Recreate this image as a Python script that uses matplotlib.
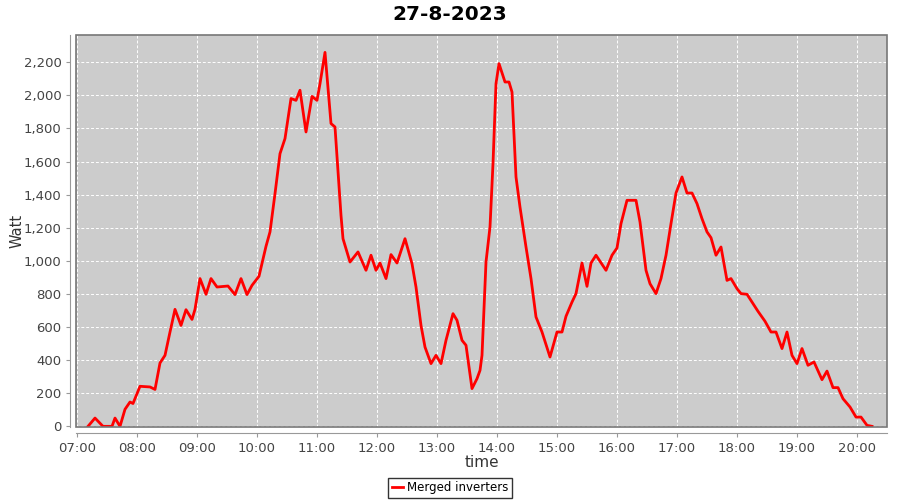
import matplotlib
matplotlib.use("Agg")
import matplotlib.pyplot as plt
import matplotlib.dates as mdates
from matplotlib.ticker import FuncFormatter
from matplotlib.patches import Rectangle
import pandas as pd

# readings of the day (time of day, watt)
times = ["07:11", "07:18", "07:26", "07:35", "07:38", "07:43", "07:48", "07:53", "07:56", "08:03",
         "08:13", "08:18", "08:23", "08:28", "08:33", "08:38", "08:44", "08:49", "08:55", "08:58",
         "09:03", "09:09", "09:14", "09:20", "09:31", "09:38", "09:44", "09:50", "09:55", "10:02",
         "10:09", "10:13", "10:18", "10:23", "10:28", "10:34", "10:39", "10:43", "10:49", "10:55",
         "11:00", "11:03", "11:08", "11:14", "11:18", "11:24", "11:26", "11:33", "11:41", "11:49",
         "11:54", "11:59", "12:03", "12:09", "12:14", "12:20", "12:28", "12:35", "12:39", "12:44",
         "12:48", "12:54", "12:59", "13:04", "13:09", "13:16", "13:20", "13:25", "13:29", "13:35",
         "13:40", "13:43", "13:45", "13:49", "13:53", "13:56", "13:59", "14:02", "14:08", "14:12",
         "14:15", "14:19", "14:23", "14:29", "14:34", "14:39", "14:45", "14:53", "15:00", "15:05",
         "15:09", "15:15", "15:19", "15:25", "15:30", "15:34", "15:39", "15:49", "15:55", "16:00",
         "16:04", "16:10", "16:19", "16:23", "16:29", "16:33", "16:39", "16:44", "16:49", "16:54",
         "16:59", "17:05", "17:10", "17:15", "17:20", "17:25", "17:30", "17:34", "17:39", "17:44",
         "17:50", "17:54", "18:00", "18:04", "18:10", "18:15", "18:21", "18:28", "18:34", "18:39",
         "18:45", "18:50", "18:55", "19:00", "19:05", "19:11", "19:17", "19:25", "19:30", "19:36",
         "19:41", "19:46", "19:53", "19:59", "20:04", "20:10", "20:15"]
watt = [0, 50, 0, 0, 50, 0, 103, 147, 138, 242,
        238, 223, 383, 429, 570, 707, 610, 705, 646, 707,
        893, 798, 893, 842, 848, 796, 893, 796, 852, 907,
        1088, 1175, 1406, 1648, 1739, 1981, 1970, 2031, 1779, 1994,
        1970, 2071, 2260, 1830, 1809, 1275, 1134, 993, 1054, 943,
        1034, 943, 987, 893, 1038, 987, 1134, 983, 842, 610,
        479, 379, 429, 379, 520, 681, 641, 520, 490, 228,
        288, 338, 429, 993, 1205, 1588, 2071, 2192, 2081, 2081,
        2020, 1507, 1325, 1084, 893, 661, 570, 419, 570, 570,
        665, 751, 802, 987, 846, 987, 1034, 943, 1034, 1078,
        1225, 1366, 1366, 1235, 943, 862, 802, 893, 1034, 1225,
        1410, 1507, 1410, 1410, 1346, 1255, 1175, 1140, 1034, 1084,
        882, 893, 832, 802, 798, 751, 695, 635, 570, 570,
        470, 570, 429, 379, 470, 369, 389, 282, 334, 234,
        234, 167, 117, 56, 56, 6, 0]

day = "2023-08-27"
x = pd.to_datetime([day + " " + t for t in times])

fig = plt.figure(figsize=(9, 5), dpi=100)
ax = fig.add_axes([76 / 900, 73 / 500, 811 / 900, 392 / 500])
ax.set_facecolor("#cccccc")

ax.plot(x, watt, color="#ff0000", linewidth=2, label="Merged inverters")

ax.set_xlim(pd.Timestamp(day + " 06:59"), pd.Timestamp(day + " 20:30"))
ax.set_ylim(-4, 2365)
ax.set_yticks(range(0, 2201, 200))
ax.yaxis.set_major_formatter(FuncFormatter(lambda v, p: f"{int(v):,}"))
ax.xaxis.set_major_locator(mdates.HourLocator())
ax.xaxis.set_major_formatter(mdates.DateFormatter("%H:%M"))

ax.grid(True, color="white", linestyle=(0, (3, 2)), linewidth=0.7)
ax.set_axisbelow(True)

for s in ["top", "right"]:
    ax.spines[s].set_visible(False)
for s in ["left", "bottom"]:
    ax.spines[s].set_position(("outward", 4))
    ax.spines[s].set_color("#999999")
ax.add_patch(Rectangle((0, 0), 1, 1, transform=ax.transAxes, fill=False,
                       edgecolor="#777777", linewidth=1.2, clip_on=False, zorder=5))
ax.tick_params(colors="#999999", labelcolor="#444444", labelsize=9.5, length=3)

ax.set_xlabel("time", fontsize=11, color="#333333", labelpad=0)
ax.set_ylabel("Watt", fontsize=10.5, color="#333333")
ax.yaxis.set_label_coords(-0.064, 0.5)
fig.suptitle("27-8-2023", fontsize=14.5, fontweight="bold", y=0.99)

leg = fig.legend(loc="lower center", bbox_to_anchor=(0.5, 0.004), frameon=True,
                 fancybox=False, fontsize=8.5, handlelength=1.0, borderpad=0.3,
                 handletextpad=0.3, borderaxespad=0)
leg.get_frame().set_edgecolor("black")
leg.get_frame().set_linewidth(1)

fig.savefig("out.png", dpi=100)
